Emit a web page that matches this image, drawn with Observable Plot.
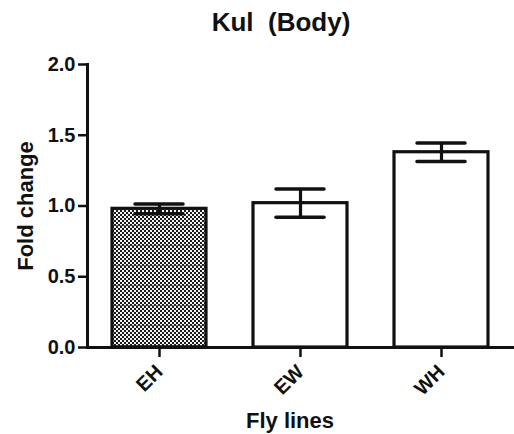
<!DOCTYPE html>
<html>
<head>
<meta charset="utf-8">
<script src="https://cdn.jsdelivr.net/npm/d3@7"></script>
<script src="https://cdn.jsdelivr.net/npm/@observablehq/plot@0.6"></script>
<style>
  html, body { margin: 0; padding: 0; background: #fff; }
  #title { width: 514px; height: 46px; box-sizing: border-box; padding-top: 7px; padding-left: 48px; text-align: center;
    line-height: 30px; font-family: "Liberation Sans", Arial, sans-serif; font-weight: bold; font-size: 26px; color: #111; white-space: pre; }
  g[aria-label="y-axis label"] text, g[aria-label="x-axis label"] text { font-size: 22px !important; font-weight: bold; }
</style>
</head>
<body>
<div id="title">Kul  (Body)</div>
<div id="chart"></div>
<script>
const categories = ["EH", "EW", "WH"];
const means = [0.98, 1.02, 1.38];
const errors = [0.035, 0.10, 0.065];
const yTicks = [0, 0.5, 1.0, 1.5, 2.0];
const xLabel = "Fly lines";
const yLabel = "Fold change";

const data = categories.map((c, i) => ({name: c, mean: means[i], err: errors[i]}));
const patterned = data.filter(d => d.name === "EH");
const plain = data.filter(d => d.name !== "EH");

const plot = Plot.plot({
  width: 514,
  height: 388,
  marginTop: 18,
  marginBottom: 87,
  marginLeft: 87,
  marginRight: 0,
  style: {fontFamily: "'Liberation Sans', Arial, sans-serif", fontWeight: "bold", color: "#111", background: "white", overflow: "visible"},
  x: {domain: categories, paddingInner: 0.33, paddingOuter: 0.17},
  y: {domain: [0, 2]},
  marks: [
    Plot.barY(plain, {x: "name", y: "mean", fill: "white", stroke: "#111", strokeWidth: 3.2}),
    Plot.barY(patterned, {x: "name", y: "mean", fill: "url(#chk)", stroke: "#111", strokeWidth: 3.2}),
    Plot.ruleX(data, {x: "name", y1: d => d.mean - d.err, y2: d => d.mean + d.err, stroke: "#111", strokeWidth: 3.2}),
    Plot.tickY(data, {x: "name", y: d => d.mean + d.err, stroke: "#111", strokeWidth: 3.5, insetLeft: 23, insetRight: 23, strokeLinecap: "round"}),
    Plot.tickY(data, {x: "name", y: d => d.mean - d.err, stroke: "#111", strokeWidth: 3.5, insetLeft: 23, insetRight: 23, strokeLinecap: "round"}),
    Plot.frame({anchor: "left", stroke: "#111", strokeWidth: 3}),
    Plot.frame({anchor: "bottom", stroke: "#111", strokeWidth: 3}),
    Plot.axisY({ticks: yTicks, tickFormat: d3.format(".1f"), tickSize: 9, tickPadding: 3, strokeWidth: 2.5, fontSize: 20,
      label: yLabel, labelAnchor: "center", labelArrow: "none", labelOffset: 70}),
    Plot.axisX({tickSize: 10, tickPadding: 11, tickRotate: -45, strokeWidth: 2.5, fontSize: 20,
      label: xLabel, labelAnchor: "center", labelArrow: "none", labelOffset: 80})
  ]
});

// checker pattern for the EH bar
const svg = d3.select(plot);
const defs = svg.insert("defs", ":first-child");
const pat = defs.append("pattern").attr("id", "chk").attr("patternUnits", "userSpaceOnUse")
  .attr("width", 4).attr("height", 20);
pat.append("rect").attr("width", 4).attr("height", 20).attr("fill", "#f4f4f4");
for (let r = 0; r < 20; r += 4) {
  pat.append("rect").attr("x", 0).attr("y", r).attr("width", 2).attr("height", 2).attr("fill", "#1a1a1a");
  pat.append("rect").attr("x", 2).attr("y", r + 2).attr("width", 2).attr("height", 2).attr("fill", "#1a1a1a");
}
pat.append("rect").attr("x", 0).attr("y", 19).attr("width", 4).attr("height", 1).attr("fill", "#333").attr("opacity", 0.6);

svg.selectAll("g[aria-label='x-axis label'] text").attr("dx", -11);

document.getElementById("chart").appendChild(plot);
</script>
</body>
</html>
